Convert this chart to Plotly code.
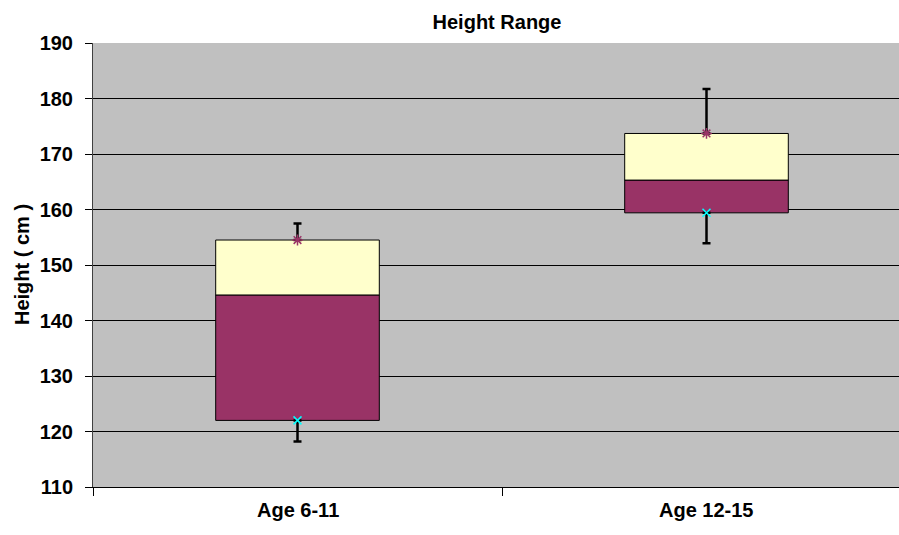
import plotly.graph_objects as go

categories = ["Age 6-11", "Age 12-15"]
minimum = [118.2, 153.9]
q1 = [122.0, 159.4]
median = [144.6, 165.3]
q3 = [154.5, 173.7]
maximum = [157.5, 181.7]
y_ticks = [110, 120, 130, 140, 150, 160, 170, 180, 190]

xpos = list(range(len(categories)))
font = "Liberation Sans, Arial, sans-serif"

W, H = 920, 535
left = 93
px_per_cat = 409
x_right = -0.5 + (W - left) / px_per_cat

fig = go.Figure()
fig.add_trace(go.Bar(
    x=xpos, y=[m - a for m, a in zip(median, q1)], base=q1, width=0.40,
    marker=dict(color="#993366", line=dict(color="black", width=1)),
    showlegend=False, hoverinfo="skip"))
fig.add_trace(go.Bar(
    x=xpos, y=[b - m for b, m in zip(q3, median)], base=median, width=0.40,
    marker=dict(color="#FFFFCC", line=dict(color="black", width=1)),
    showlegend=False, hoverinfo="skip"))
# upper whisker
fig.add_trace(go.Scatter(
    x=xpos, y=q3, mode="markers",
    marker=dict(symbol="asterisk-open", size=9, color="#993366", line=dict(color="#993366", width=1.5)),
    error_y=dict(type="data", symmetric=False, array=[mx - b for mx, b in zip(maximum, q3)],
                 arrayminus=[0, 0], color="black", thickness=2.5, width=4),
    showlegend=False, hoverinfo="skip"))
# lower whisker
fig.add_trace(go.Scatter(
    x=xpos, y=q1, mode="markers",
    marker=dict(symbol="x-thin-open", size=8, color="#00FFFF", line=dict(color="#00E5E5", width=1.5)),
    error_y=dict(type="data", symmetric=False, array=[0, 0],
                 arrayminus=[a - mn for a, mn in zip(q1, minimum)], color="black", thickness=2.5, width=4),
    showlegend=False, hoverinfo="skip"))

for i, c in enumerate(categories):
    fig.add_annotation(x=i, y=0, xref="x", yref="paper", yshift=-23, text=c,
                       showarrow=False, yanchor="middle",
                       font=dict(family=font, size=20, color="black", weight="bold"))

fig.add_annotation(x=0, y=0.5, xref="paper", yref="paper", xshift=-71, text="Height ( cm )",
                   textangle=-90, showarrow=False, xanchor="center", yanchor="middle",
                   font=dict(family=font, size=20, color="black", weight="bold"))

fig.update_layout(
    width=W, height=H,
    margin=dict(l=left, r=0, t=43, b=48),
    paper_bgcolor="white", plot_bgcolor="#C0C0C0",
    barmode="overlay",
    title=dict(text="Height Range", x=497 / W, xanchor="center", xref="container",
               y=0.959, yanchor="middle", yref="container",
               font=dict(family=font, size=20, color="black", weight="bold")),
    xaxis=dict(range=[-0.5, x_right], tickvals=[-0.5, 0.5], ticktext=["", ""], ticks="outside",
               ticklen=8, tickcolor="black", showgrid=False, zeroline=False,
               showline=True, linecolor="black", linewidth=1),
    yaxis=dict(range=[110, 190], tickvals=y_ticks, ticks="outside", ticklen=7, tickcolor="black",
               showgrid=True, gridcolor="black", gridwidth=1, zeroline=False,
               showline=True, linecolor="#404040", linewidth=1, ticklabelstandoff=8,
               tickfont=dict(family=font, size=20, color="black", weight="bold")),
)
fig.write_html(
    "out.html",
    config={"displayModeBar": False},
    post_script=("document.body.style.margin='0px';"
                 "document.body.style.overflow='hidden';"
                 "document.documentElement.style.overflow='hidden';"),
)
